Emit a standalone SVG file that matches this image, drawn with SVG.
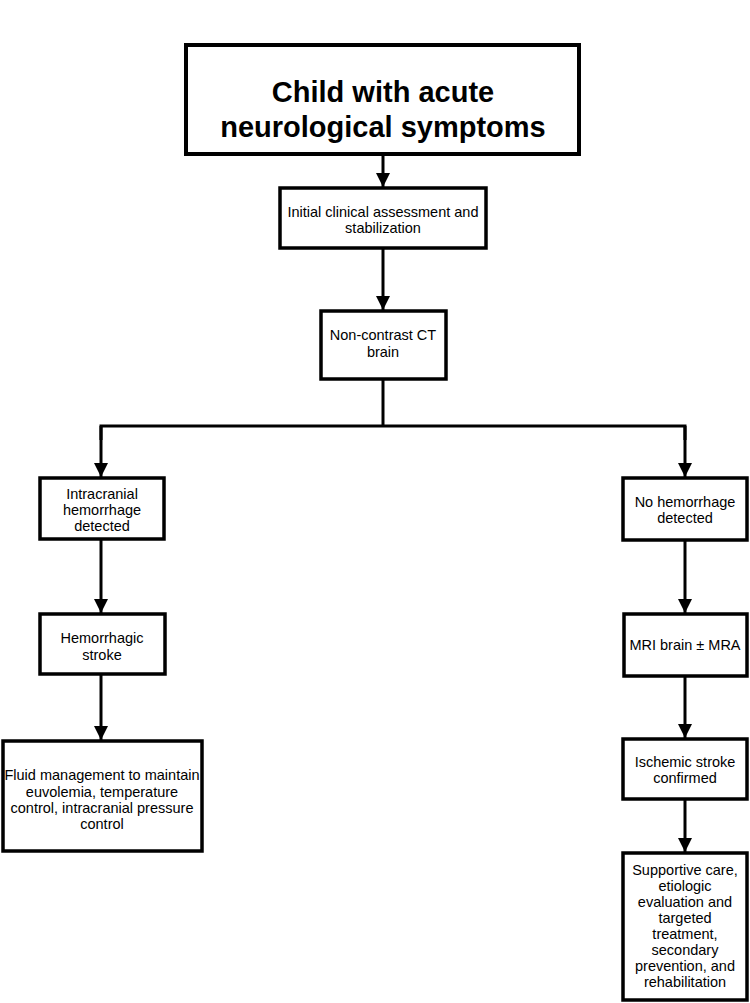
<svg xmlns="http://www.w3.org/2000/svg" width="750" height="1003" viewBox="0 0 750 1003">
<defs>
<style>
.box{fill:#fff;stroke:#000;stroke-width:3.5}
.t{font-family:"Liberation Sans",Arial,sans-serif;font-size:14.5px;fill:#000;text-anchor:middle}
.title{font-family:"Liberation Sans",Arial,sans-serif;font-size:29px;font-weight:bold;fill:#000;text-anchor:middle}
.c{fill:none;stroke:#000;stroke-width:3}
</style>
<marker id="ah" markerUnits="userSpaceOnUse" markerWidth="16" markerHeight="16" refX="14" refY="7" orient="auto">
<path d="M0,0 L14,7 L0,14 Z" fill="#000"/>
</marker>
</defs>
<rect width="750" height="1003" fill="#fff"/>
<g id="connectors">
<line class="c" x1="383" y1="155" x2="383" y2="187" marker-end="url(#ah)"/>
<line class="c" x1="383" y1="249" x2="383" y2="310" marker-end="url(#ah)"/>
<polyline class="c" points="383,380 383,426"/>
<polyline class="c" points="101,440 101,426 685,426 685,440"/>
<line class="c" x1="101" y1="426" x2="101" y2="477" marker-end="url(#ah)"/>
<line class="c" x1="685" y1="426" x2="685" y2="477" marker-end="url(#ah)"/>
<line class="c" x1="101" y1="540" x2="101" y2="613" marker-end="url(#ah)"/>
<line class="c" x1="101" y1="675" x2="101" y2="740" marker-end="url(#ah)"/>
<line class="c" x1="685" y1="541" x2="685" y2="613" marker-end="url(#ah)"/>
<line class="c" x1="685" y1="677" x2="685" y2="738" marker-end="url(#ah)"/>
<line class="c" x1="685" y1="800" x2="685" y2="852" marker-end="url(#ah)"/>
</g>
<g id="start">
<rect class="box" x="186" y="45" width="393" height="109" style="stroke-width:4"/>
<text class="title" x="383" y="102">Child with acute</text>
<text class="title" x="383" y="137">neurological symptoms</text>
</g>
<g id="assessment">
<rect class="box" x="280" y="188" width="206" height="60"/>
<text class="t" x="383" y="217">Initial clinical assessment and</text>
<text class="t" x="383" y="233">stabilization</text>
</g>
<g id="ct">
<rect class="box" x="321" y="311" width="125" height="68"/>
<text class="t" x="383" y="340">Non-contrast CT</text>
<text class="t" x="383" y="357">brain</text>
</g>
<g id="hemorrhage">
<rect class="box" x="40" y="478" width="124" height="61"/>
<text class="t" x="102" y="499">Intracranial</text>
<text class="t" x="102" y="515">hemorrhage</text>
<text class="t" x="102" y="531">detected</text>
</g>
<g id="hemorrhagic-stroke">
<rect class="box" x="40" y="614" width="125" height="60"/>
<text class="t" x="102" y="643">Hemorrhagic</text>
<text class="t" x="102" y="660">stroke</text>
</g>
<g id="fluid">
<rect class="box" x="3" y="741" width="199" height="110"/>
<text class="t" x="102" y="780">Fluid management to maintain</text>
<text class="t" x="102" y="797">euvolemia, temperature</text>
<text class="t" x="102" y="813">control, intracranial pressure</text>
<text class="t" x="102" y="829">control</text>
</g>
<g id="no-hemorrhage">
<rect class="box" x="623" y="478" width="124" height="62"/>
<text class="t" x="685" y="507">No hemorrhage</text>
<text class="t" x="685" y="523">detected</text>
</g>
<g id="mri">
<rect class="box" x="624" y="614" width="123" height="62"/>
<text class="t" x="685" y="650">MRI brain ± MRA</text>
</g>
<g id="ischemic">
<rect class="box" x="623" y="739" width="124" height="60"/>
<text class="t" x="685" y="767">Ischemic stroke</text>
<text class="t" x="685" y="783">confirmed</text>
</g>
<g id="supportive">
<rect class="box" x="623" y="853" width="124" height="147"/>
<text class="t" x="685" y="875">Supportive care,</text>
<text class="t" x="685" y="891">etiologic</text>
<text class="t" x="685" y="907">evaluation and</text>
<text class="t" x="685" y="923">targeted</text>
<text class="t" x="685" y="939">treatment,</text>
<text class="t" x="685" y="955">secondary</text>
<text class="t" x="685" y="971">prevention, and</text>
<text class="t" x="685" y="987">rehabilitation</text>
</g>
</svg>
